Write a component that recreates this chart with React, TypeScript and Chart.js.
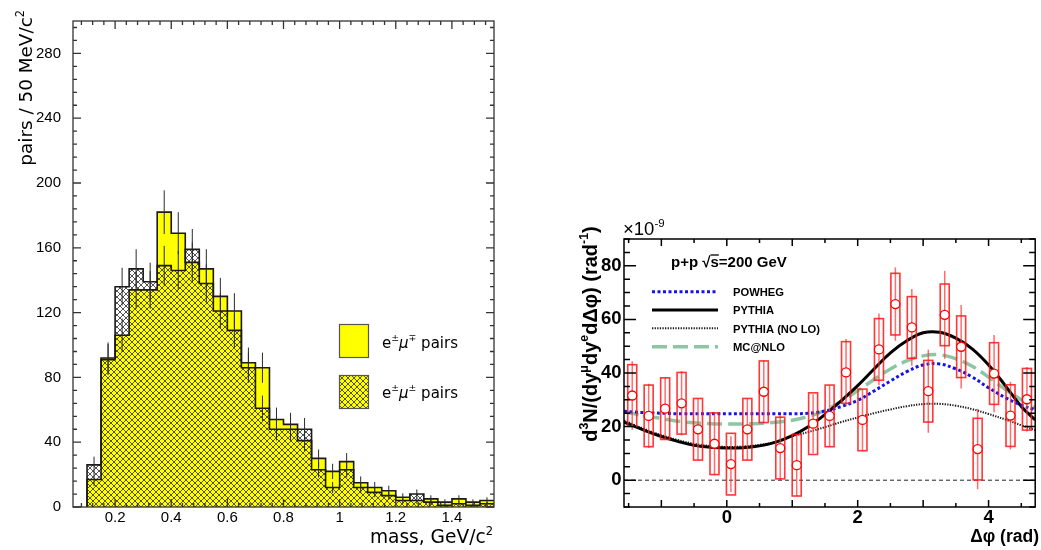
import React, { useEffect, useRef } from "react";
import { Chart, registerables } from "chart.js";
Chart.register(...registerables);

// ---------------- Left panel: e-mu pair mass spectrum ----------------
const massBinLow = [0.10, 0.15, 0.20, 0.25, 0.30, 0.35, 0.40, 0.45, 0.50, 0.55, 0.60, 0.65, 0.70, 0.75, 0.80, 0.85, 0.90, 0.95, 1.00, 1.05, 1.10, 1.15, 1.20, 1.25, 1.30, 1.35, 1.40, 1.45, 1.50];
const massBinWidth = 0.05;
const unlikeSignCounts = [17, 92, 106, 134, 134, 182, 169, 151, 147, 130, 121, 89, 86, 54, 51, 41, 30, 22, 28, 15, 12, 10, 6, 4, 5, 3, 5, 3, 4];
const likeSignCounts = [26, 91, 136, 147, 139, 149, 146, 159, 138, 121, 109, 86, 61, 48, 48, 48, 23, 12, 23, 12, 9, 7, 4, 8, 3, 1, 2, 1, 2];
const massTicks = [0.2, 0.4, 0.6, 0.8, 1, 1.2, 1.4];
const pairTicks = [0, 40, 80, 120, 160, 200, 240, 280];

// ---------------- Right panel: delta-phi correlation ----------------
const dphiCenters = [-1.445, -1.194, -0.942, -0.691, -0.440, -0.188, 0.063, 0.314, 0.565, 0.817, 1.068, 1.319, 1.571, 1.822, 2.073, 2.325, 2.576, 2.827, 3.079, 3.330, 3.581, 3.833, 4.084, 4.335, 4.586];
const yieldValues = [31.6, 24.0, 26.7, 28.7, 19.0, 13.6, 6.0, 19.0, 33.0, 12.0, 5.6, 21.1, 24.0, 40.2, 22.5, 48.8, 65.7, 57.0, 33.2, 61.7, 49.8, 11.6, 39.8, 24.1, 30.2];
const statErrors = [12.8, 12.0, 11.5, 12.0, 11.5, 11.7, 10.4, 11.5, 11.7, 12.2, 11.5, 11.0, 11.5, 12.5, 11.5, 13.4, 13.7, 14.3, 15.5, 16.4, 15.6, 15.0, 14.4, 12.6, 12.0];
const sysErrors = [11.5, 11.5, 11.5, 11.5, 11.5, 11.5, 11.5, 11.5, 11.5, 11.5, 11.5, 11.5, 11.5, 11.5, 11.5, 11.5, 11.5, 11.5, 11.5, 11.5, 11.5, 11.5, 11.5, 11.5, 11.5];

const modelPhi = [-1.571, -1.25, -1.0, -0.75, -0.5, -0.25, 0, 0.25, 0.5, 0.75, 1.0, 1.25, 1.5, 1.75, 2.0, 2.25, 2.5, 2.75, 3.0, 3.25, 3.5, 3.75, 4.0, 4.25, 4.5, 4.712];
const powhegCurve = [25.7, 25.2, 25.0, 24.8, 24.8, 24.8, 24.8, 24.8, 24.8, 24.8, 24.8, 25.0, 25.8, 27.5, 29.8, 33.3, 37.0, 40.5, 43.0, 43.4, 41.5, 38.5, 34.5, 30.9, 28.0, 26.3];
const pythiaCurve = [21.7, 18.5, 16.3, 14.5, 13.0, 12.3, 12.0, 12.1, 12.8, 14.2, 16.6, 20.0, 24.5, 29.7, 35.3, 41.5, 47.5, 52.0, 55.0, 55.2, 53.0, 49.0, 43.0, 35.5, 27.5, 22.5];
const pythiaNoLoCurve = [22.3, 19.0, 16.8, 15.0, 13.6, 12.8, 12.4, 12.6, 13.2, 14.3, 16.4, 18.0, 19.8, 21.7, 23.4, 25.0, 26.4, 27.6, 28.4, 28.5, 27.8, 26.5, 24.7, 22.7, 20.5, 18.7];
const mcAtNloCurve = [25.5, 24.0, 23.0, 22.0, 21.4, 21.1, 21.0, 21.0, 21.2, 21.6, 22.4, 23.8, 26.0, 29.5, 33.4, 37.6, 41.5, 44.5, 46.4, 46.8, 45.3, 42.5, 38.5, 34.0, 30.0, 27.0];
const phiTicks = [0, 2, 4];
const yieldTicks = [0, 20, 40, 60, 80];

const DEJAVU = '"DejaVu Sans", sans-serif';
const ARIAL = '"Liberation Sans", Arial, sans-serif';

type Seg = { t: string; sup?: boolean; italic?: boolean; overline?: boolean };

function segFont(size: number, family: string, weight: string, s: Seg) {
  const sz = s.sup ? size * 0.62 : size;
  return `${s.italic ? "italic " : ""}${weight} ${sz}px ${family}`;
}
function richWidth(ctx: CanvasRenderingContext2D, segs: Seg[], size: number, family: string, weight: string) {
  let w = 0;
  for (const s of segs) {
    ctx.font = segFont(size, family, weight, s);
    w += ctx.measureText(s.t).width;
  }
  return w;
}
function drawRich(ctx: CanvasRenderingContext2D, segs: Seg[], x: number, y: number, size: number, family: string, weight: string, align: "left" | "right" | "center", color: string) {
  const total = richWidth(ctx, segs, size, family, weight);
  let cx = align === "left" ? x : align === "right" ? x - total : x - total / 2;
  ctx.fillStyle = color;
  ctx.strokeStyle = color;
  ctx.textAlign = "left";
  ctx.textBaseline = "alphabetic";
  for (const s of segs) {
    ctx.font = segFont(size, family, weight, s);
    const dy = s.sup ? -size * 0.42 : 0;
    ctx.fillText(s.t, cx, y + dy);
    const w = ctx.measureText(s.t).width;
    if (s.overline) {
      ctx.lineWidth = 1.3;
      ctx.beginPath();
      ctx.moveTo(cx, y - size * 0.8);
      ctx.lineTo(cx + w, y - size * 0.8);
      ctx.stroke();
    }
    cx += w;
  }
}

function makeHatch(): CanvasPattern {
  const s = 6;
  const c = document.createElement("canvas");
  c.width = s;
  c.height = s;
  const g = c.getContext("2d")!;
  g.strokeStyle = "rgba(30,30,30,0.85)";
  g.lineWidth = 0.9;
  g.beginPath();
  g.moveTo(-1, -1); g.lineTo(s + 1, s + 1);
  g.moveTo(-1, s + 1); g.lineTo(s + 1, -1);
  g.stroke();
  return g.createPattern(c, "repeat")!;
}

type TickSpec = { step: number; every: number; majorLen: number; minorLen: number };
function drawFrameTicks(chart: any, xs: TickSpec, ys: TickSpec, color: string, lw: number) {
  const { ctx, chartArea: a, scales } = chart;
  const xS = scales.x, yS = scales.y;
  ctx.save();
  ctx.strokeStyle = color;
  ctx.lineWidth = lw;
  ctx.setLineDash([]);
  ctx.beginPath();
  const kx0 = Math.ceil(xS.min / xs.step - 1e-6), kx1 = Math.floor(xS.max / xs.step + 1e-6);
  for (let k = kx0; k <= kx1; k++) {
    const p = xS.getPixelForValue(k * xs.step);
    const len = k % xs.every === 0 ? xs.majorLen : xs.minorLen;
    ctx.moveTo(p, a.bottom); ctx.lineTo(p, a.bottom - len);
    ctx.moveTo(p, a.top); ctx.lineTo(p, a.top + len);
  }
  const ky0 = Math.ceil(yS.min / ys.step - 1e-6), ky1 = Math.floor(yS.max / ys.step + 1e-6);
  for (let k = ky0; k <= ky1; k++) {
    const p = yS.getPixelForValue(k * ys.step);
    const len = k % ys.every === 0 ? ys.majorLen : ys.minorLen;
    ctx.moveTo(a.left, p); ctx.lineTo(a.left + len, p);
    ctx.moveTo(a.right, p); ctx.lineTo(a.right - len, p);
  }
  ctx.stroke();
  ctx.strokeRect(a.left, a.top, a.right - a.left, a.bottom - a.top);
  ctx.restore();
}

function histPoints(counts: number[]) {
  const pts = [{ x: massBinLow[0], y: 0 }];
  counts.forEach((c, i) => pts.push({ x: massBinLow[i], y: c }));
  const last = counts.length - 1;
  pts.push({ x: massBinLow[last] + massBinWidth, y: counts[last] });
  return pts;
}

const fmtTick = (v: any) => String(+Number(v).toFixed(2));

function LeftPanel() {
  const ref = useRef<HTMLCanvasElement>(null);
  useEffect(() => {
    const hatch = makeHatch();
    const decor = {
      id: "leftDecor",
      afterDatasetsDraw(chart: any) {
        const { ctx, scales } = chart;
        const xS = scales.x, yS = scales.y;
        ctx.save();
        // statistical error bars
        ctx.strokeStyle = "#2a2a2a";
        ctx.lineWidth = 1;
        ctx.beginPath();
        [unlikeSignCounts, likeSignCounts].forEach((counts) => {
          counts.forEach((c, i) => {
            const px = xS.getPixelForValue(massBinLow[i] + massBinWidth / 2);
            const e = Math.sqrt(c);
            ctx.moveTo(px, yS.getPixelForValue(c + e));
            ctx.lineTo(px, yS.getPixelForValue(Math.max(c - e, 0)));
          });
        });
        ctx.stroke();
        ctx.restore();

        drawFrameTicks(chart, { step: 0.04, every: 5, majorLen: 8, minorLen: 4 }, { step: 8, every: 5, majorLen: 8, minorLen: 4 }, "#333", 1.3);

        ctx.save();
        // axis titles
        drawRich(ctx, [{ t: "mass, GeV/c" }, { t: "2", sup: true }], 493, 543, 18.6, DEJAVU, "normal", "right", "#000");
        ctx.translate(32, 10);
        ctx.rotate(-Math.PI / 2);
        drawRich(ctx, [{ t: "pairs / 50 MeV/c" }, { t: "2", sup: true }], 0, 0, 18.4, DEJAVU, "normal", "right", "#000");
        ctx.restore();

        // legend
        ctx.save();
        ctx.fillStyle = "#ffff00";
        ctx.fillRect(339.5, 324.5, 29, 33);
        ctx.strokeStyle = "#555";
        ctx.lineWidth = 1.2;
        ctx.strokeRect(339.5, 324.5, 29, 33);
        ctx.fillStyle = "#ffff00";
        ctx.fillRect(339.5, 375.5, 29, 33);
        ctx.fillStyle = hatch;
        ctx.fillRect(339.5, 375.5, 29, 33);
        ctx.strokeRect(339.5, 375.5, 29, 33);
        drawRich(ctx, [{ t: "e" }, { t: "±", sup: true }, { t: "μ", italic: true }, { t: "∓", sup: true }, { t: " pairs" }], 382, 347.5, 15, DEJAVU, "normal", "left", "#000");
        drawRich(ctx, [{ t: "e" }, { t: "±", sup: true }, { t: "μ", italic: true }, { t: "±", sup: true }, { t: " pairs" }], 382, 397.5, 15, DEJAVU, "normal", "left", "#000");
        ctx.restore();
      },
    };
    const chart = new Chart(ref.current!, {
      type: "line",
      data: {
        datasets: [
          { label: "like-sign", data: histPoints(likeSignCounts), stepped: true, fill: "origin", backgroundColor: hatch, borderColor: "#1a1a1a", borderWidth: 1.6, pointRadius: 0, order: 0 } as any,
          { label: "unlike-sign", data: histPoints(unlikeSignCounts), stepped: true, fill: "origin", backgroundColor: "#ffff00", borderColor: "#1a1a1a", borderWidth: 1.6, pointRadius: 0, order: 1 } as any,
        ],
      },
      options: {
        responsive: false,
        animation: false,
        events: [],
        layout: { padding: { left: 0, right: 26, top: 10, bottom: 0 } },
        plugins: { legend: { display: false }, tooltip: { enabled: false } },
        scales: {
          x: {
            type: "linear", min: 0.05, max: 1.55,
            afterBuildTicks: (s: any) => { s.ticks = massTicks.map((v) => ({ value: v })); },
            afterFit: (s: any) => { s.height = 43; },
            grid: { display: false, drawTicks: false },
            border: { display: false },
            ticks: { font: { family: ARIAL, size: 15 }, color: "#000", padding: 2, maxRotation: 0, autoSkip: false, callback: fmtTick },
          },
          y: {
            type: "linear", min: 0, max: 300,
            afterBuildTicks: (s: any) => { s.ticks = pairTicks.map((v) => ({ value: v })); },
            afterFit: (s: any) => { s.width = 73; },
            grid: { display: false, drawTicks: false },
            border: { display: false },
            ticks: { font: { family: ARIAL, size: 15 }, color: "#000", padding: 12, autoSkip: false, callback: fmtTick },
          },
        },
      } as any,
      plugins: [decor],
    });
    return () => chart.destroy();
  }, []);
  return <canvas ref={ref} width={520} height={550} style={{ position: "absolute", left: 0, top: 0 }} />;
}

const curvePts = (vals: number[]) => modelPhi.map((x, i) => ({ x, y: vals[i] }));

const legendItems = [
  { label: "POWHEG", color: "#1414e6", width: 3, dash: [3, 2.5] },
  { label: "PYTHIA", color: "#000", width: 3, dash: [] as number[] },
  { label: "PYTHIA (NO LO)", color: "#1a1a1a", width: 2, dash: [1.3, 1.3] },
  { label: "MC@NLO", color: "#8cc6a4", width: 3.5, dash: [15, 6] },
];

function RightPanel() {
  const ref = useRef<HTMLCanvasElement>(null);
  useEffect(() => {
    const DATA_INDEX = 4;
    const decor = {
      id: "rightDecor",
      beforeDatasetsDraw(chart: any) {
        const { ctx, chartArea: a, scales } = chart;
        const y0 = scales.y.getPixelForValue(0);
        ctx.save();
        ctx.strokeStyle = "#222";
        ctx.lineWidth = 1;
        ctx.setLineDash([4, 3]);
        ctx.beginPath();
        ctx.moveTo(a.left, y0);
        ctx.lineTo(a.right, y0);
        ctx.stroke();
        ctx.restore();
      },
      beforeDatasetDraw(chart: any, args: any) {
        if (args.index !== DATA_INDEX) return;
        const { ctx, scales } = chart;
        const xS = scales.x, yS = scales.y;
        ctx.save();
        ctx.setLineDash([]);
        dphiCenters.forEach((c, i) => {
          const px = xS.getPixelForValue(c);
          const v = yieldValues[i];
          ctx.strokeStyle = "rgba(255,60,60,0.75)";
          ctx.lineWidth = 1.5;
          ctx.beginPath();
          ctx.moveTo(px, yS.getPixelForValue(v + statErrors[i]));
          ctx.lineTo(px, yS.getPixelForValue(v - statErrors[i]));
          ctx.stroke();
          const top = yS.getPixelForValue(v + sysErrors[i]);
          const bot = yS.getPixelForValue(v - sysErrors[i]);
          ctx.strokeStyle = "rgba(255,20,20,0.85)";
          ctx.lineWidth = 1.6;
          ctx.strokeRect(px - 4.5, top, 9, bot - top);
        });
        ctx.restore();
      },
      afterDatasetsDraw(chart: any) {
        const { ctx } = chart;
        drawFrameTicks(chart, { step: 0.5, every: 2, majorLen: 7, minorLen: 4 }, { step: 5, every: 4, majorLen: 12, minorLen: 6 }, "#000", 1.5);
        const ox = 520;
        ctx.save();
        ctx.translate(-ox, 0);
        // exponent
        drawRich(ctx, [{ t: "×10" }, { t: "-9", sup: true }], 623, 235, 18.5, ARIAL, "normal", "left", "#000");
        // header
        drawRich(ctx, [{ t: "p+p " }, { t: "√" }, { t: "s", overline: true }, { t: "=200 GeV" }], 671, 267, 15, ARIAL, "bold", "left", "#000");
        // legend
        const ly = [291.7, 310, 328.3, 346.7];
        legendItems.forEach((it, i) => {
          ctx.save();
          ctx.strokeStyle = it.color;
          ctx.lineWidth = it.width;
          ctx.setLineDash(it.dash);
          ctx.beginPath();
          ctx.moveTo(652, ly[i]);
          ctx.lineTo(718, ly[i]);
          ctx.stroke();
          ctx.restore();
          drawRich(ctx, [{ t: it.label }], 733, ly[i] + 4.2, 11.2, ARIAL, "bold", "left", "#000");
        });
        // axis titles
        drawRich(ctx, [{ t: "Δφ (rad)" }], 1039, 542, 17.5, ARIAL, "bold", "right", "#000");
        ctx.translate(596.5, 334);
        ctx.rotate(-Math.PI / 2);
        drawRich(ctx, [
          { t: "d" }, { t: "3", sup: true }, { t: "N/(dy" }, { t: "μ", sup: true }, { t: "dy" }, { t: "e", sup: true },
          { t: "dΔφ) (rad" }, { t: "-1", sup: true }, { t: ")" },
        ], 0, 0, 20, ARIAL, "bold", "center", "#000");
        ctx.restore();
      },
    };
    const lineBase = { pointRadius: 0, fill: false, tension: 0.4, order: 1, borderCapStyle: "butt" };
    const chart = new Chart(ref.current!, {
      type: "line",
      data: {
        datasets: [
          { ...lineBase, label: "POWHEG", data: curvePts(powhegCurve), borderColor: legendItems[0].color, borderWidth: legendItems[0].width, borderDash: legendItems[0].dash } as any,
          { ...lineBase, label: "PYTHIA", data: curvePts(pythiaCurve), borderColor: legendItems[1].color, borderWidth: legendItems[1].width } as any,
          { ...lineBase, label: "PYTHIA (NO LO)", data: curvePts(pythiaNoLoCurve), borderColor: legendItems[2].color, borderWidth: legendItems[2].width, borderDash: legendItems[2].dash } as any,
          { ...lineBase, label: "MC@NLO", data: curvePts(mcAtNloCurve), borderColor: legendItems[3].color, borderWidth: legendItems[3].width, borderDash: legendItems[3].dash } as any,
          {
            label: "data", data: dphiCenters.map((x, i) => ({ x, y: yieldValues[i] })), showLine: false,
            pointRadius: 4.5, pointBorderWidth: 1.3, pointBackgroundColor: "#fff", pointBorderColor: "#ff0000", order: 0,
          } as any,
        ],
      },
      options: {
        responsive: false,
        animation: false,
        events: [],
        layout: { padding: { left: 0, right: 1, top: 239, bottom: 0 } },
        plugins: { legend: { display: false }, tooltip: { enabled: false } },
        scales: {
          x: {
            type: "linear", min: -Math.PI / 2, max: (3 * Math.PI) / 2,
            afterBuildTicks: (s: any) => { s.ticks = phiTicks.map((v) => ({ value: v })); },
            afterFit: (s: any) => { s.height = 43; },
            grid: { display: false, drawTicks: false },
            border: { display: false },
            ticks: { font: { family: ARIAL, size: 18.5, weight: "bold" }, color: "#000", padding: 0, maxRotation: 0, autoSkip: false, callback: fmtTick },
          },
          y: {
            type: "linear", min: -10, max: 90,
            afterBuildTicks: (s: any) => { s.ticks = yieldTicks.map((v) => ({ value: v })); },
            afterFit: (s: any) => { s.width = 104; },
            grid: { display: false, drawTicks: false },
            border: { display: false },
            ticks: { font: { family: ARIAL, size: 18.5, weight: "bold" }, color: "#000", padding: 2.5, autoSkip: false, callback: fmtTick },
          },
        },
      } as any,
      plugins: [decor],
    });
    return () => chart.destroy();
  }, []);
  return <canvas ref={ref} width={521} height={550} style={{ position: "absolute", left: 520, top: 0 }} />;
}

export default function App() {
  return (
    <div style={{ position: "absolute", left: 0, top: 0, width: 1041, height: 550, background: "#fff", overflow: "hidden" }}>
      <LeftPanel />
      <RightPanel />
    </div>
  );
}
